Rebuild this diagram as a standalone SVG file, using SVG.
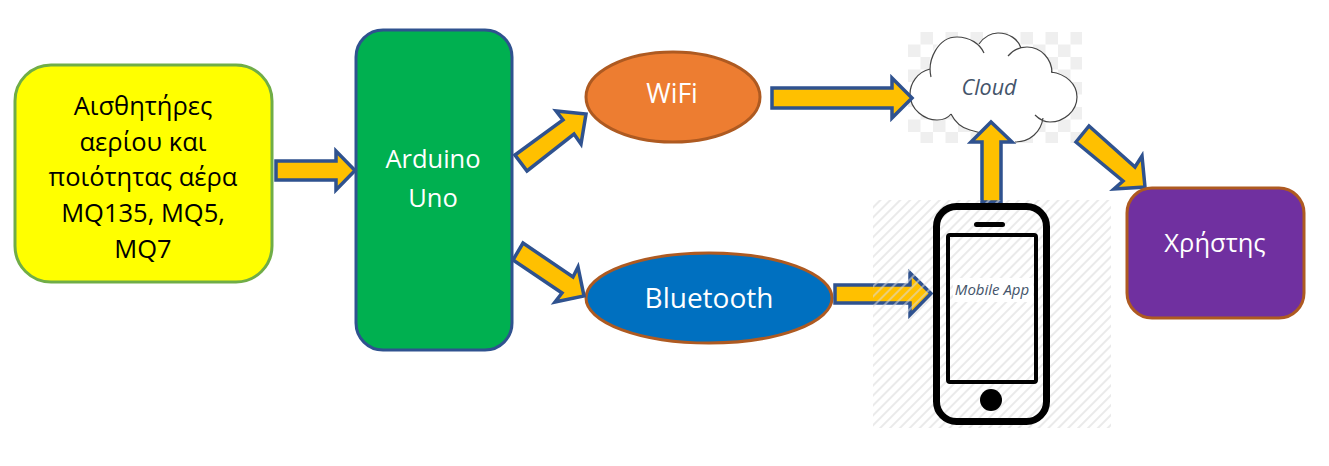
<svg xmlns="http://www.w3.org/2000/svg" width="1329" height="466" viewBox="0 0 1329 466">
<style>
text{font-family:"Open Sans","Noto Sans","DejaVu Sans",sans-serif;text-anchor:middle}
.arrow{fill:#ffc000;stroke:#2f528f;stroke-width:3.5;stroke-miterlimit:8}
.lbl{fill:#fff;font-size:25.500px}
.dark{fill:#000;font-size:25.500px}
.it{fill:#44546a;font-style:italic}
.cl{fill:none;stroke:#444;stroke-width:1.2}
</style>
<defs>
<pattern id="checker" x="908" y="32" width="25" height="25" patternUnits="userSpaceOnUse">
<rect x="12.5" y="0" width="12.5" height="12.5" fill="#efefef"/>
<rect x="0" y="12.5" width="12.5" height="12.5" fill="#efefef"/>
</pattern>
<pattern id="stripes" width="7" height="7" patternUnits="userSpaceOnUse" patternTransform="rotate(-45)">
<rect width="7" height="2" fill="#d9d9d9" fill-opacity="0.55"/>
</pattern>
</defs>
<rect width="1329" height="466" fill="#fff"/>
<g id="sensors">
<rect x="15" y="65" width="257" height="217" rx="36" fill="#ffff00" stroke="#70ad47" stroke-width="3"/>
<text class="dark" x="143" y="115">Αισθητήρες</text>
<text class="dark" x="143" y="151">αερίου και</text>
<text class="dark" x="143" y="186">ποιότητας αέρα</text>
<text class="dark" x="143" y="222">MQ135, MQ5,</text>
<text class="dark" x="143" y="258">MQ7</text>
</g>
<g id="arduino">
<rect x="356" y="30" width="156" height="320" rx="27" fill="#00b050" stroke="#2f528f" stroke-width="3"/>
<text class="lbl" x="433" y="168">Arduino</text>
<text class="lbl" x="433" y="207">Uno</text>
</g>
<g id="wifi">
<ellipse cx="673" cy="97" rx="87" ry="45" fill="#ed7d31" stroke="#ae5a21" stroke-width="3"/>
<text class="lbl" x="672" y="103" style="font-size:26.500px">WiFi</text>
</g>
<g id="bluetooth">
<ellipse cx="709" cy="298" rx="123" ry="45" fill="#0070c0" stroke="#ae5a21" stroke-width="3"/>
<text class="lbl" x="709" y="308" style="font-size:28px">Bluetooth</text>
</g>
<g id="cloud">
<rect x="908" y="32" width="174" height="111" fill="url(#checker)"/>
<path d="M930 69C917 72 910 84 910 94C910 110 925 120 937 120C943 120 948 118 951 114C955 122 962 128 970 130L981 133L1015 142C1030 142 1041 132 1043 118C1045 120 1048 122 1050 122C1064 122 1077 111 1077 97C1077 84 1066 74 1051 72C1052 59 1041 47 1027 47C1025 47 1023 47 1021 48C1018 39 1009 33 998 33C990 33 984 37 979 44C973 39 965 37 957 37C938 37 927 55 930 69Z" fill="#fff"/>
<path class="cl" d="M930 69C917 72 910 84 910 94C910 110 925 120 937 120C943 120 948 118 951 114M931 77C927 60 938 37 957 37C970 37 980 44 984 53M979 44C984 37 990 33 998 33C1009 33 1018 39 1021 48M1008 56C1013 50 1020 47 1027 47C1041 47 1052 59 1052 73M1051 72C1066 74 1077 84 1077 97C1077 111 1064 122 1050 122C1044 122 1039 119 1035 115M1043 118C1041 132 1030 142 1015 142M951 114C955 122 962 128 970 130L981 133"/>
<text class="it" x="989" y="95" style="font-size:21.500px">Cloud</text>
</g>
<g id="connectors">
<polygon class="arrow" points="276,161 336,161 336,151 355,170.500 336,190 336,180 276,180"/>
<polygon class="arrow" points="515,155 563,120 556,111 586,114 581,144 574,134 527,171"/>
<polygon class="arrow" points="513,260 523,243 573,277 578,267 584,296 555,302 562,293"/>
<polygon class="arrow" points="772,88 892,88 892,78 912,98 892,118 892,108 772,108"/>
<polygon class="arrow" points="835,285 910,285 910,273 931,293.500 910,315 910,303 835,303"/>
<polygon class="arrow" points="982,202 982,142 971,142 991,122 1012,142 1001,142 1001,202"/>
<polygon class="arrow" points="1076,142 1089,126 1135,167 1142,156 1145,187 1114,189 1123,181"/>
</g>
<g id="phone">
<rect x="873" y="200" width="238" height="228" fill="url(#stripes)"/>
<rect x="953" y="278" width="80" height="24" fill="#fff"/>
<rect x="936.500" y="206.500" width="110" height="215" rx="20" fill="none" stroke="#000" stroke-width="7"/>
<rect x="948" y="235" width="88" height="147" rx="2" fill="none" stroke="#000" stroke-width="4"/>
<rect x="974" y="222" width="31" height="5" rx="2.500" fill="#000"/>
<circle cx="991" cy="400" r="11" fill="#000"/>
<text class="it" x="992" y="295" style="font-size:15px">Mobile App</text>
</g>
<g id="user">
<rect x="1127" y="188" width="177" height="130" rx="25" fill="#7030a0" stroke="#ae5a21" stroke-width="3"/>
<text class="lbl" x="1215" y="252">Χρήστης</text>
</g>
</svg>
